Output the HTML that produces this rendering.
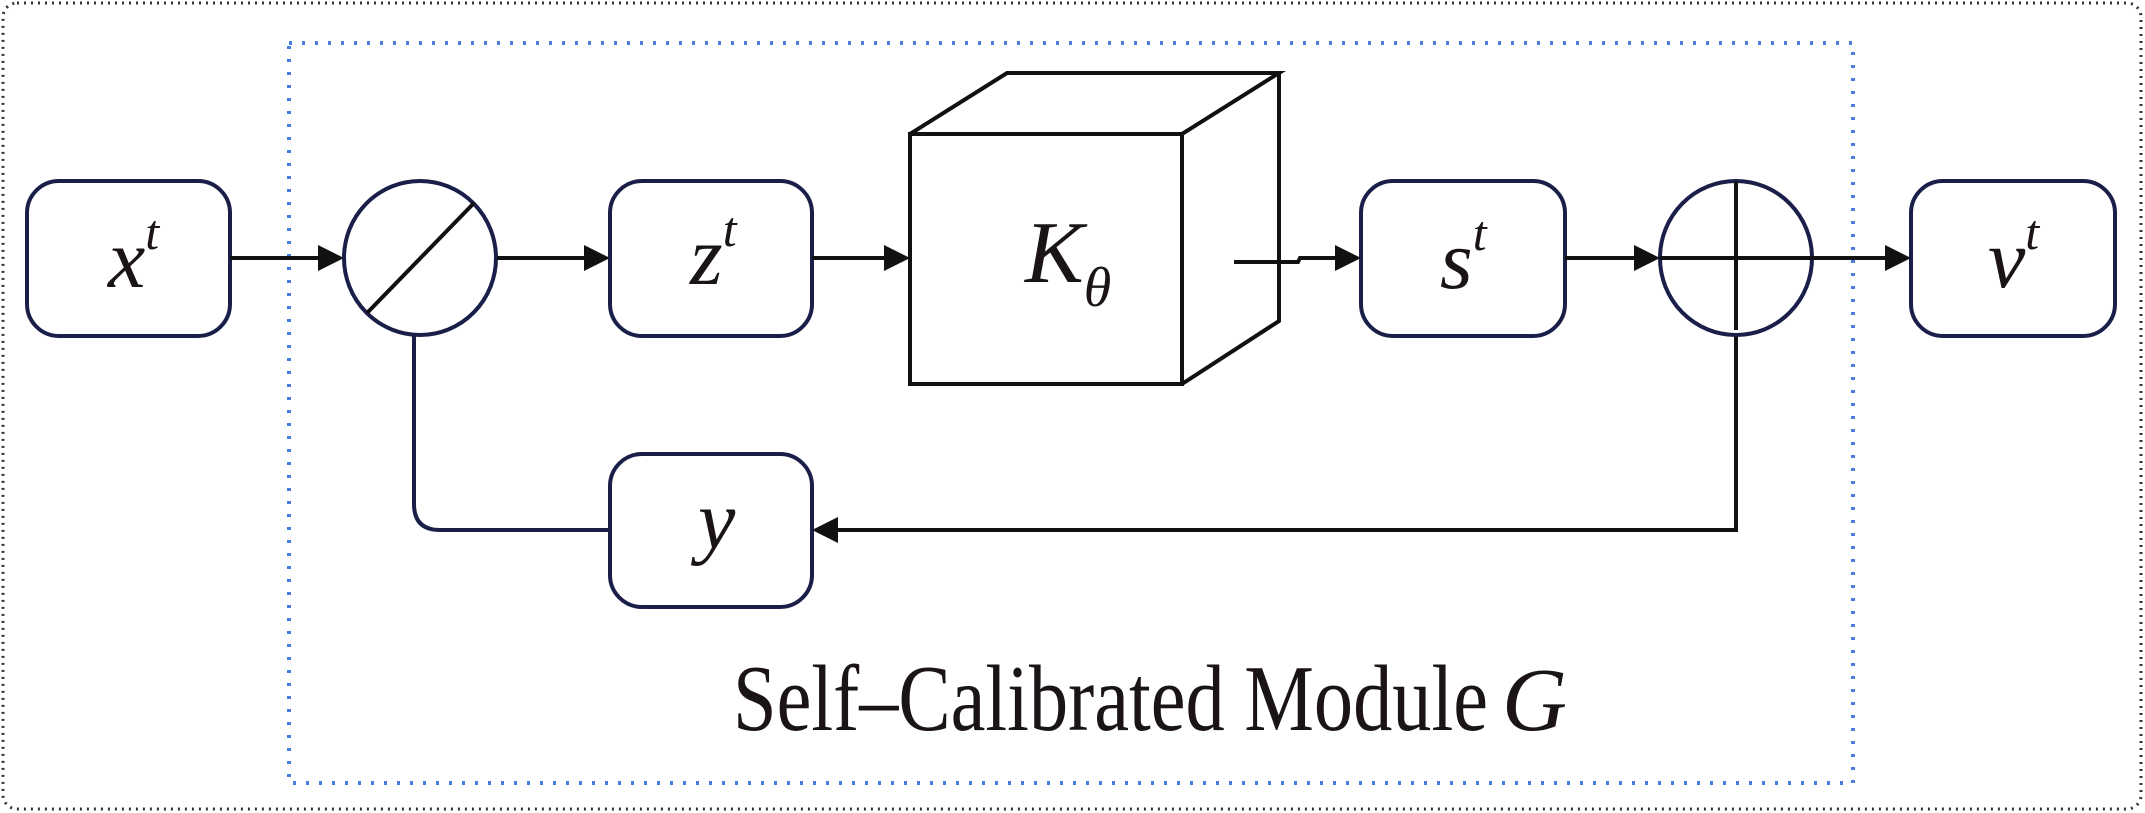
<!DOCTYPE html>
<html><head><meta charset="utf-8"><style>
html,body{margin:0;padding:0;background:#fff;}
svg{display:block;}
text{font-family:"Liberation Serif",serif;fill:#1a1414;}
</style></head><body>
<svg width="2145" height="813" viewBox="0 0 2145 813" xmlns="http://www.w3.org/2000/svg">
<rect x="3" y="3" width="2138" height="806" rx="14" fill="none" stroke="#333" stroke-width="3" stroke-dasharray="2 5"/>
<rect x="289" y="43" width="1564" height="740" fill="none" stroke="#4a7fe0" stroke-width="4" stroke-dasharray="3 10"/>
<g fill="#fff" stroke="#1a1f4a" stroke-width="4">
<rect x="27" y="181" width="203" height="155" rx="32"/>
<rect x="610" y="181" width="202" height="155" rx="32"/>
<rect x="1361" y="181" width="204" height="155" rx="32"/>
<rect x="1911" y="181" width="204" height="155" rx="32"/>
<rect x="610" y="454" width="202" height="153" rx="32"/>
<ellipse cx="420" cy="258" rx="76" ry="77"/>
<ellipse cx="1736" cy="258" rx="76" ry="77"/>
</g>
<g stroke="#111" stroke-width="4" fill="none">
<line x1="367" y1="313" x2="474" y2="203"/>
<line x1="1736" y1="181" x2="1736" y2="330"/>
<line x1="1660" y1="258" x2="1812" y2="258"/>
<line x1="230" y1="258" x2="320" y2="258"/>
<line x1="497" y1="258" x2="585" y2="258"/>
<line x1="812" y1="258" x2="885" y2="258"/>
<polyline points="1234,262 1298,262 1300,258 1336,258"/>
<line x1="1565" y1="258" x2="1636" y2="258"/>
<line x1="1812" y1="258" x2="1886" y2="258"/>
<polyline points="1736,336 1736,530 837,530"/>
<path d="M610,530 H440 Q414,530 414,504 V336" stroke="#1a1f4a"/>
<rect x="910" y="134" width="272" height="250" fill="#fff"/>
<polyline points="910,134 1007,73 1279,73 1182,134"/>
<polyline points="1279,73 1279,321 1182,384"/>
</g>
<g fill="#111">
<polygon points="344,258 318,245 318,271"/>
<polygon points="610,258 584,245 584,271"/>
<polygon points="910,258 884,245 884,271"/>
<polygon points="1361,258 1335,245 1335,271"/>
<polygon points="1660,258 1634,245 1634,271"/>
<polygon points="1911,258 1885,245 1885,271"/>
<polygon points="812,530 838,517 838,543"/>
</g>
<line x1="1234" y1="262" x2="1260" y2="262" stroke="#111" stroke-width="4"/>
<g font-style="italic" font-size="84">
<text x="108" y="287">x<tspan font-size="50" dy="-38">t</tspan></text>
<text x="690" y="284">z<tspan font-size="50" dy="-38">t</tspan></text>
<text x="1440" y="288">s<tspan font-size="50" dy="-38">t</tspan></text>
<text x="1988" y="287">v<tspan font-size="50" dy="-38">t</tspan></text>
<text x="698" y="548">y</text>
<text x="1025" y="282" font-size="88">K<tspan font-size="56" dy="24">θ</tspan></text>
</g>
<text x="733" y="730" font-size="94" textLength="755" lengthAdjust="spacingAndGlyphs">Self–Calibrated Module</text>
<text x="1502" y="730" font-size="90" font-style="italic">G</text>
</svg>
</body></html>
